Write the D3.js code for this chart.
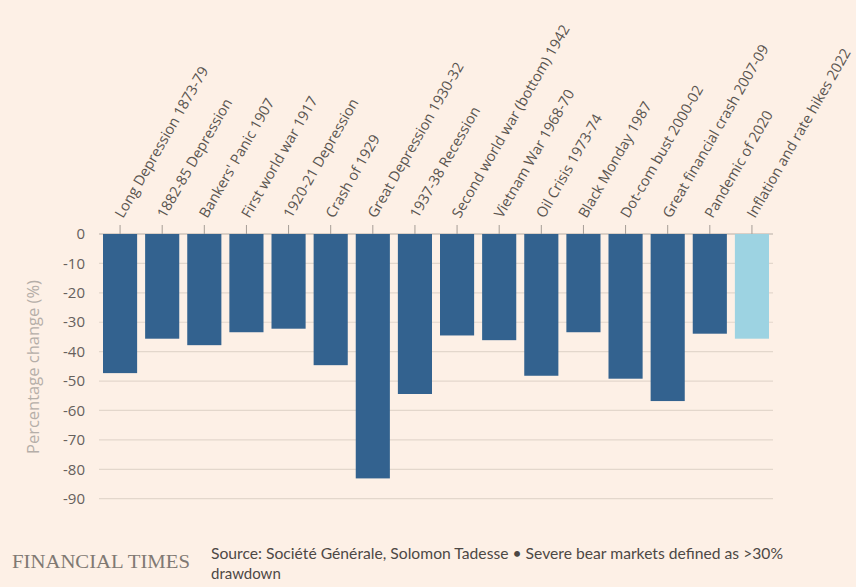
<!DOCTYPE html>
<html><head><meta charset="utf-8">
<script src="https://cdn.jsdelivr.net/npm/d3@7"></script>
<style>
body{margin:0;background:#fdf0e6;}
svg{display:block;}
</style></head>
<body>
<svg id="chart" width="856" height="587"></svg>
<script>
const categories = ["Long Depression 1873-79","1882-85 Depression","Bankers' Panic 1907","First world war 1917","1920-21 Depression","Crash of 1929","Great Depression 1930-32","1937-38 Recession","Second world war (bottom) 1942","Vietnam War 1968-70","Oil Crisis 1973-74","Black Monday 1987","Dot-com bust 2000-02","Great financial crash 2007-09","Pandemic of 2020","Inflation and rate hikes 2022"];
const values = [-47.3,-35.6,-37.8,-33.4,-32.2,-44.6,-83.1,-54.4,-34.5,-36.1,-48.2,-33.4,-49.2,-56.8,-33.9,-35.6];
const highlight = [false,false,false,false,false,false,false,false,false,false,false,false,false,false,false,true];
const yTicks = [0,-10,-20,-30,-40,-50,-60,-70,-80,-90];

const svg = d3.select("#chart");
svg.append("rect").attr("width",856).attr("height",587).attr("fill","#fdf0e6");

const x = d3.scaleBand().domain(categories).range([99,773]).paddingInner(0.19).paddingOuter(0.095);
const y = d3.scaleLinear().domain([-90,0]).range([498.7,234]);

// gridlines
svg.append("g").selectAll("line").data(yTicks).join("line")
  .attr("x1",99).attr("x2",773)
  .attr("y1",d=>y(d)).attr("y2",d=>y(d))
  .attr("stroke",d=>d===0?"#b8aea6":"#e3d7cc").attr("stroke-width",1.2);

// y tick labels
svg.append("g").selectAll("text").data(yTicks).join("text")
  .attr("x",85).attr("y",d=>y(d)).attr("dy","0.35em")
  .attr("text-anchor","end")
  .attr("font-family","'Open Sans', sans-serif").attr("font-size",15)
  .attr("fill","#66605c").text(d=>d);

// y axis title
svg.append("text")
  .attr("transform","translate(39,367) rotate(-90)")
  .attr("text-anchor","middle")
  .attr("font-family","'Open Sans', sans-serif").attr("font-size",16.5)
  .attr("fill","#b5aea8").text("Percentage change (%)");

// bars
svg.append("g").selectAll("rect").data(categories).join("rect")
  .attr("x",d=>x(d)).attr("width",x.bandwidth())
  .attr("y",y(0))
  .attr("height",(d,i)=>y(values[i])-y(0))
  .attr("fill",(d,i)=>highlight[i]?"#9dd3e2":"#33628f");

// top ticks
svg.append("g").selectAll("line").data(categories).join("line")
  .attr("x1",d=>x(d)+x.bandwidth()/2).attr("x2",d=>x(d)+x.bandwidth()/2)
  .attr("y1",225).attr("y2",234)
  .attr("stroke","#a59d96").attr("stroke-width",1);

// category labels
svg.append("g").selectAll("text").data(categories).join("text")
  .attr("transform",d=>`translate(${x(d)+x.bandwidth()/2+3},219) rotate(-60)`)
  .attr("text-anchor","start")
  .attr("font-family","'Open Sans', sans-serif").attr("font-size",14.5)
  .attr("fill","#5a5550").text(d=>d);

// footer
svg.append("text").attr("x",12).attr("y",568)
  .attr("font-family","'Liberation Serif', serif").attr("font-size",19.5)
  .attr("textLength",178).attr("lengthAdjust","spacingAndGlyphs")
  .attr("fill","#807973").text("FINANCIAL TIMES");
svg.append("text").attr("x",211).attr("y",559)
  .attr("font-family","Lato, sans-serif").attr("font-size",15)
  .attr("textLength",572).attr("lengthAdjust","spacingAndGlyphs")
  .attr("fill","#4d4845").text("Source: Société Générale, Solomon Tadesse • Severe bear markets defined as >30%");
svg.append("text").attr("x",211).attr("y",579)
  .attr("font-family","Lato, sans-serif").attr("font-size",15)
  .attr("fill","#4d4845").text("drawdown");
</script>
</body></html>
